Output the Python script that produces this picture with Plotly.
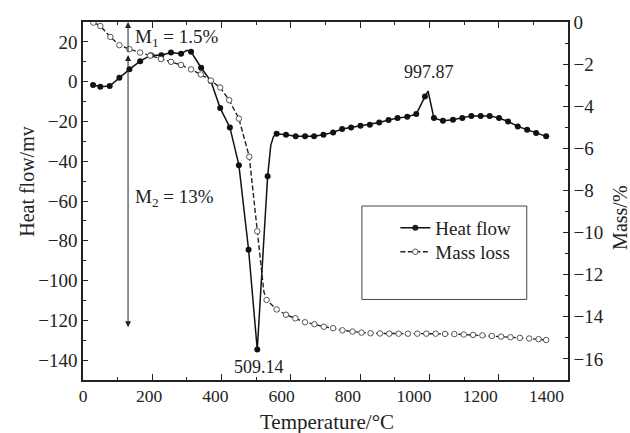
import plotly.graph_objects as go

# ---------------- data ----------------
heat_T = [29, 50, 77, 105, 134, 165, 196, 226, 254, 283, 300, 312, 341, 369, 396, 424,
          450, 478, 503, 533, 542, 550, 559, 586, 614, 641, 667, 694, 722, 748, 774, 801,
          828, 855, 882, 908, 936, 962, 987, 996, 1013, 1039, 1068, 1095, 1121, 1148,
          1174, 1201, 1227, 1255, 1282, 1308, 1337]
heat_v = [-1.7, -2.5, -2.2, 2.0, 6.2, 10.3, 13.3, 13.3, 14.7, 14.0, 15.8, 15.0, 7.0, 0.3,
          -13.3, -23.0, -42.0, -84.5, -134.7, -47.5, -32.0, -27.5, -26.2, -26.7, -27.5,
          -27.5, -27.5, -26.7, -25.5, -23.8, -23.0, -22.2, -21.7, -20.5, -19.3, -18.3,
          -17.7, -16.3, -7.5, -4.7, -18.3, -19.7, -19.2, -18.3, -17.2, -17.2, -17.2,
          -18.3, -20.0, -22.5, -24.2, -25.8, -27.5]
heat_unmarked = [300, 542, 550, 996]

mass_T = [17, 30, 50, 79, 105, 134, 165, 194, 225, 254, 283, 312, 340, 369, 396, 422,
          450, 480, 503, 522, 530, 559, 586, 613, 641, 668, 695, 722, 749, 778, 804, 830,
          857, 884, 911, 938, 965, 991, 1018, 1045, 1072, 1099, 1126, 1153, 1180, 1207,
          1234, 1261, 1288, 1315, 1337]
mass_v = [0.1, -0.03, -0.19, -0.71, -1.10, -1.29, -1.45, -1.60, -1.76, -1.89, -2.04,
          -2.25, -2.49, -2.78, -3.11, -3.71, -4.59, -6.40, -9.94, -12.8, -13.2, -13.65,
          -13.9, -14.07, -14.26, -14.35, -14.47, -14.54, -14.64, -14.70, -14.75, -14.78,
          -14.79, -14.80, -14.80, -14.80, -14.80, -14.80, -14.80, -14.81, -14.82, -14.84,
          -14.86, -14.88, -14.91, -14.94, -14.97, -15.00, -15.03, -15.06, -15.10]
mass_unmarked = [17, 522]

x_ticks = [0, 200, 400, 600, 800, 1000, 1200, 1400]
heat_ticks = [20, 0, -20, -40, -60, -80, -100, -120, -140]
mass_ticks = [0, -2, -4, -6, -8, -10, -12, -14, -16]

peak_labels = [("997.87", 1000, 5), ("509.14", 508, -143.7)]
arrow_T = 130
M1_end, M2_end = -1.5, -14.5

FONT = "Liberation Serif"
INK = "#222222"

fig = go.Figure()

fig.add_trace(go.Scatter(
    x=mass_T, y=mass_v, yaxis="y2", name="Mass loss", mode="lines+markers",
    line=dict(color="#222222", width=1.4, dash="5px,2.5px"),
    marker=dict(symbol="circle", size=5.5, color="white",
                line=dict(color="#555555", width=1),
                opacity=[0 if t in mass_unmarked else 1 for t in mass_T]),
    legend="legend2"))

fig.add_trace(go.Scatter(
    x=heat_T, y=heat_v, name="Heat flow", mode="lines+markers",
    line=dict(color="#111111", width=1.5),
    marker=dict(symbol="circle", size=6, color="#111111",
                opacity=[0 if t in heat_unmarked else 1 for t in heat_T]),
    legend="legend"))

# empty trace so the label axis is drawn
fig.add_trace(go.Scatter(x=[], y=[], xaxis="x3", showlegend=False))

xtickfont = dict(family=FONT, size=17.5, color=INK)
ytickfont = dict(family=FONT, size=19, color=INK)
legfont = dict(family=FONT, size=19, color=INK)

fig.update_layout(
    width=630, height=433,
    margin=dict(l=83, r=62, t=20, b=53),
    paper_bgcolor="white", plot_bgcolor="white",
    hovermode=False,
    showlegend=True,
    legend=dict(x=0.644, y=0.478, xanchor="left", yanchor="top", font=legfont,
                bgcolor="rgba(0,0,0,0)", borderwidth=0),
    legend2=dict(x=0.644, y=0.411, xanchor="left", yanchor="top", font=legfont,
                 bgcolor="rgba(0,0,0,0)", borderwidth=0),
    xaxis=dict(range=[0, 1400], tickvals=x_ticks, ticks="inside", ticklen=6,
               tickwidth=1.2, tickcolor=INK, showline=True, linecolor=INK,
               linewidth=1.5, mirror="ticks", showticklabels=False,
               showgrid=False, zeroline=False,
               minor=dict(dtick=100, tick0=0, ticks="inside", ticklen=3.5,
                          tickwidth=1, tickcolor=INK, showgrid=False)),
    xaxis3=dict(overlaying="x", anchor="y", side="bottom", range=[0, 1465],
                tickvals=x_ticks, ticktext=[str(v) for v in x_ticks], ticks="",
                ticklabelstandoff=3,
                showline=False, showgrid=False, zeroline=False, tickfont=xtickfont),
    yaxis=dict(range=[-150, 30], tickvals=heat_ticks, ticks="inside", ticklen=5,
               tickwidth=1.2, tickcolor=INK, showline=True, linecolor=INK,
               linewidth=1.5, showgrid=False, zeroline=False, tickfont=ytickfont,
               minor=dict(dtick=10, tick0=0, ticks="inside", ticklen=3,
                          tickwidth=1, tickcolor=INK, showgrid=False)),
    yaxis2=dict(range=[-17, 0], tickvals=mass_ticks, overlaying="y", side="right",
                anchor="x", ticks="inside", ticklen=5, tickwidth=1.2, tickcolor=INK,
                showline=True, linecolor=INK, linewidth=1.5, showgrid=False,
                zeroline=False, tickfont=ytickfont,
                minor=dict(dtick=1, tick0=0, ticks="inside", ticklen=3,
                           tickwidth=1, tickcolor=INK, showgrid=False)),
)

# legend frame
fig.add_shape(type="rect", xref="paper", yref="paper", x0=0.575, x1=0.915,
              y0=0.225, y1=0.486, line=dict(color="#444444", width=1))

annfont = dict(family=FONT, size=19, color=INK)

# mass-loss arrows
fig.add_annotation(x=arrow_T, y=0, ax=arrow_T, ay=M1_end, xref="x", yref="y2",
                   axref="x", ayref="y2", showarrow=True, arrowhead=2, arrowsize=1.2,
                   arrowwidth=1, arrowcolor=INK, text="")
fig.add_annotation(x=arrow_T, y=M2_end, ax=arrow_T, ay=M1_end, xref="x", yref="y2",
                   axref="x", ayref="y2", showarrow=True, arrowhead=2, arrowsize=1.2,
                   arrowwidth=1, arrowcolor=INK, arrowside="end+start", text="")

fig.add_annotation(x=0.1025, y=0.954, xref="paper", yref="paper", xanchor="left",
                   yanchor="middle", showarrow=False, text="M<sub>1</sub> = 1.5%",
                   font=annfont)
fig.add_annotation(x=0.104, y=0.509, xref="paper", yref="paper", xanchor="left",
                   yanchor="middle", showarrow=False, text="M<sub>2</sub> = 13%",
                   font=annfont)

for txt, xt, yv in peak_labels:
    fig.add_annotation(x=xt, y=yv, xref="x", yref="y", showarrow=False, text=txt,
                       xanchor="center", yanchor="middle",
                       font=dict(family=FONT, size=18, color=INK))

# axis titles
fig.add_annotation(x=(326.7 - 83) / 485, y=(380 - 422.3) / 360, xref="paper",
                   yref="paper", xanchor="center", yanchor="middle", showarrow=False,
                   text="Temperature/°C", font=dict(family=FONT, size=21, color=INK))
fig.add_annotation(x=(26.7 - 83) / 485, y=(380 - 180) / 360, xref="paper",
                   yref="paper", xanchor="center", yanchor="middle", showarrow=False,
                   text="Heat flow/mv", textangle=-90,
                   font=dict(family=FONT, size=20, color=INK))
fig.add_annotation(x=(620 - 83) / 485, y=(380 - 217) / 360, xref="paper",
                   yref="paper", xanchor="center", yanchor="middle", showarrow=False,
                   text="Mass/%", textangle=-90,
                   font=dict(family=FONT, size=20, color=INK))

fig.write_html("out.html")
